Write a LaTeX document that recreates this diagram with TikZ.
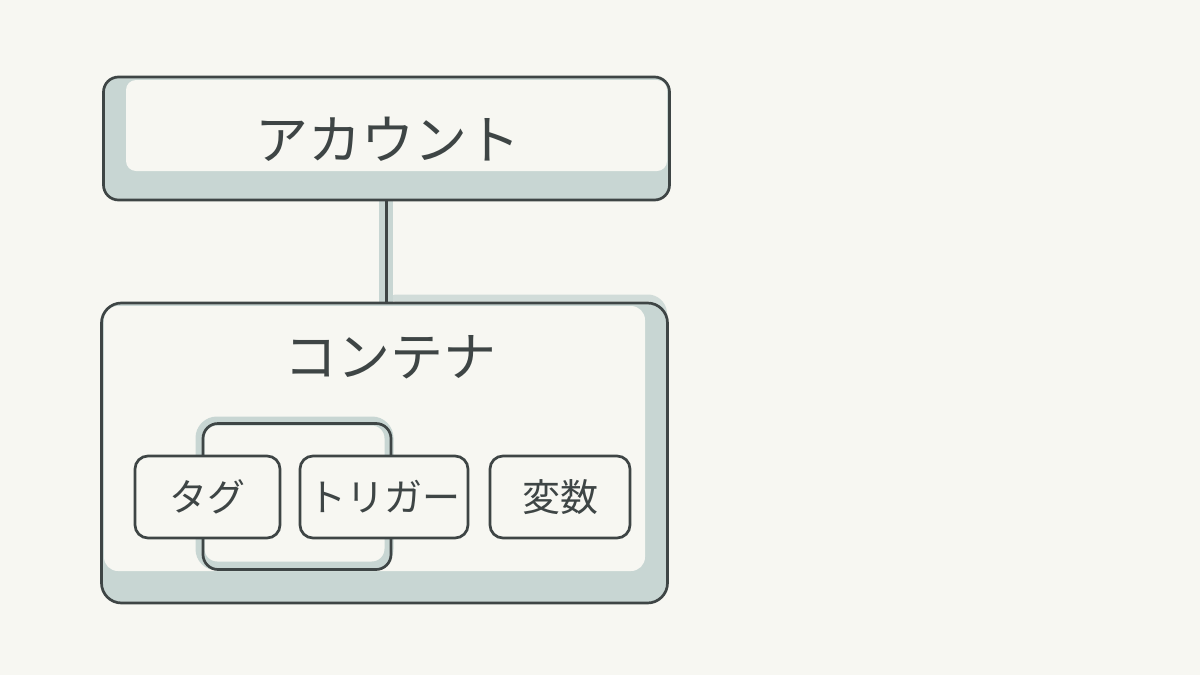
\documentclass[tikz,border=0pt]{standalone}
\usepackage{fontspec}
\setmainfont{Noto Sans CJK JP}
\definecolor{paper}{HTML}{F7F7F2}
\definecolor{ink}{HTML}{3E4545}
\definecolor{wash}{HTML}{C8D6D3}

\begin{document}
\begin{tikzpicture}[%
      x=1pt, y=-1pt,
      box/.style={draw=ink, line width=2.7pt, text=ink, inner sep=0pt},
      bigbox/.style={box, rounded corners=15pt, minimum width=566pt},
      smallbox/.style={box, fill=paper, rounded corners=13pt, minimum height=82pt,
        font=\fontsize{38}{42}\selectfont},
      title/.style={text=ink, font=\fontsize{53}{60}\selectfont},
      ]
      \useasboundingbox (0,0) rectangle (1200,675);
      \fill [color=paper] (0,0) rectangle (1200,675);

      % washes under the outlines
      \fill [color=wash, rounded corners=15pt] (104,78) rectangle (669,199);
      \fill [color=paper, rounded corners=10pt] (126,80) rectangle (667,171);
      \draw [color=wash, line width=14pt] (386,200) -- (386,303);
      \draw [color=wash, opacity=0.8, line width=7pt, rounded corners=14pt, line cap=round] (395,298) -- (662,298) -- (664,318);
      \fill [color=wash, rounded corners=20pt] (102,304) rectangle (667,602);
      \fill [color=paper, rounded corners=14pt] (104,306) rectangle (645,571);
      \draw [color=wash, line width=9pt, rounded corners=17pt] (200,421) rectangle (389,566);

      \node [bigbox, minimum height=123pt] (account) at (386.5,138.5) {};
      \node [title] (accountlabel) at (388,139) {アカウント};
      \node [bigbox, rounded corners=20pt, minimum height=300pt] (container) at (384.5,453) {};
      \node [title] (containerlabel) at (390,357) {コンテナ};

      \draw [color=ink, line width=2.7pt] (account.south) -- (account.south |- container.north);

      \node [box, rounded corners=15pt, minimum width=188pt, minimum height=146pt] (loop) at (297,496.5) {};

      \node [smallbox, minimum width=145pt] (tag) at (207.5,497) {タグ};
      \node [smallbox, minimum width=168pt] (trigger) at (384,497) {トリガー};
      \node [smallbox, minimum width=140pt] (variable) at (560,497) {変数};
\end{tikzpicture}
\end{document}
